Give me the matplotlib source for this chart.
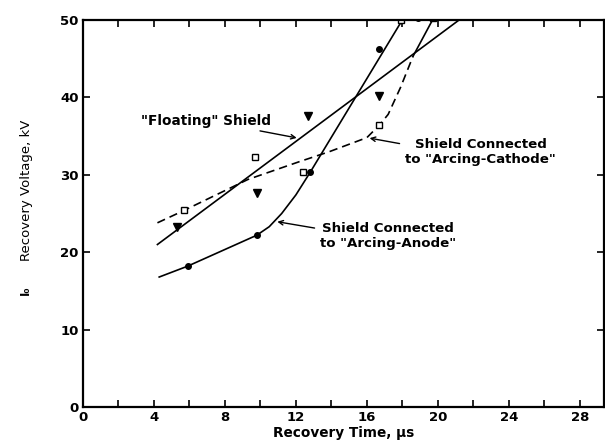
import numpy as np
import matplotlib
matplotlib.use('Agg')
import matplotlib.pyplot as plt

# values
float_line_x = [4.2, 21.2, 29.5]
float_line_y = [21.0, 50.0, 50.0]
float_pts_x = [5.3, 9.8, 12.7, 16.7, 19.7]
float_pts_y = [23.2, 27.6, 37.6, 40.2, 50.5]

anode_line_x = [4.3, 5.9, 9.8, 10.5, 11.2, 12.0, 12.8, 18.0, 29.5]
anode_line_y = [16.8, 18.2, 22.2, 23.3, 25.0, 27.4, 30.3, 50.0, 50.0]
anode_pts_x = [5.9, 9.8, 12.8, 16.7, 18.9]
anode_pts_y = [18.2, 22.2, 30.3, 46.2, 50.3]

cath_dash_x = [4.2, 5.7, 9.3, 12.2, 13.9, 16.0, 16.7, 17.2, 17.9, 18.6]
cath_dash_y = [23.8, 25.4, 29.4, 31.7, 33.0, 34.8, 36.4, 37.8, 41.3, 45.3]
cath_solid_x = [18.6, 19.7, 29.5]
cath_solid_y = [45.3, 50.0, 50.0]
cath_pts_x = [5.7, 9.7, 12.4, 16.7, 17.9, 19.7]
cath_pts_y = [25.4, 32.3, 30.3, 36.4, 50.0, 50.3]

xticks = [0, 4, 8, 12, 16, 20, 24, 28]
yticks = [0, 10, 20, 30, 40, 50]

plt.rcParams['font.family'] = ['DejaVu Sans']

fig = plt.figure(figsize=(6.05, 4.43), dpi=100)
ax = fig.add_axes([0.137, 0.081, 0.861, 0.874])

ax.plot(float_line_x, float_line_y, color='black', lw=1.2)
ax.plot(anode_line_x, anode_line_y, color='black', lw=1.2)
ax.plot(cath_dash_x, cath_dash_y, color='black', lw=1.2, ls=(0, (5, 3)))
ax.plot(cath_solid_x, cath_solid_y, color='black', lw=1.2)

ax.plot(float_pts_x, float_pts_y, 'v', color='black', ms=5.5, ls='none')
ax.plot(anode_pts_x, anode_pts_y, 'o', color='black', ms=4, ls='none')
ax.plot(cath_pts_x, cath_pts_y, 's', mfc='white', mec='black', mew=1, ms=4.5, ls='none')

ax.set_xlim(0, 29.35)
ax.set_ylim(0, 50)
ax.set_xticks(xticks)
ax.set_xticks(np.arange(0, 30, 2), minor=True)
ax.set_yticks(yticks)
ax.tick_params(direction='in', top=True, right=True, length=5, width=1.2,
               labelsize=9.5, pad=3)
ax.tick_params(which='minor', direction='in', top=True, length=5, width=1.2)
for lab in ax.get_xticklabels() + ax.get_yticklabels():
    lab.set_fontweight('bold')
for s in ax.spines.values():
    s.set_linewidth(1.6)

ax.set_xlabel('Recovery Time, µs', fontsize=9.8, fontweight='bold', labelpad=1)
ax.set_ylabel('Recovery Voltage, kV', fontsize=9.5)
ax.yaxis.set_label_coords(-0.095, 0.56)
fig.text(0.042, 0.345, 'I₀', rotation=90, fontsize=8.5, fontweight='bold',
         ha='center', va='center')

arrow = dict(arrowstyle='->', lw=1, color='black', mutation_scale=8)
ax.annotate('"Floating" Shield', xy=(12.2, 34.7), xytext=(10.6, 37.0),
            ha='right', va='center', fontsize=9.8, fontweight='bold',
            arrowprops=arrow)
ax.annotate('Shield Connected\nto "Arcing-Cathode"', xy=(16.0, 34.8),
            xytext=(22.4, 33.0), ha='center', va='center', fontsize=9.6,
            fontweight='bold', arrowprops=dict(arrow, relpos=(0.0, 0.75)))
ax.annotate('Shield Connected\nto "Arcing-Anode"', xy=(10.8, 24.0),
            xytext=(17.2, 22.1), ha='center', va='center', fontsize=9.6,
            fontweight='bold', arrowprops=dict(arrow, relpos=(0.0, 0.75)))

fig.savefig('out.png', dpi=100)
